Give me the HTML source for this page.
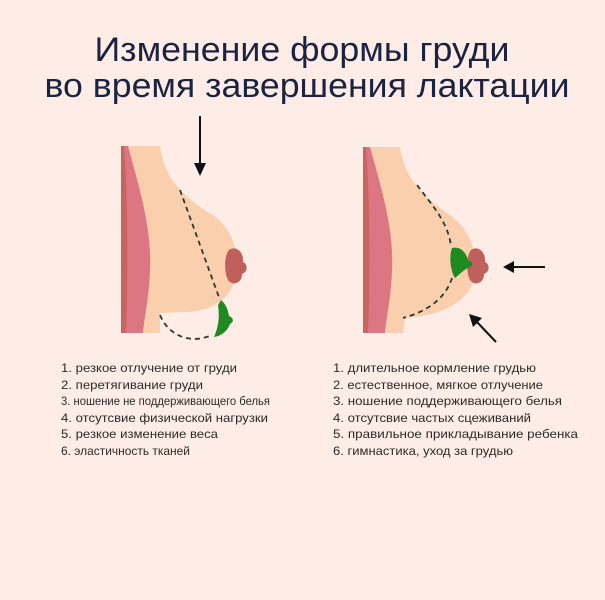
<!DOCTYPE html>
<html><head><meta charset="utf-8"><style>
html,body{margin:0;padding:0;background:#fdede6;}
svg{display:block}
text{font-family:"Liberation Sans",sans-serif;}
</style></head><body>
<svg width="605" height="600" viewBox="0 0 605 600" xmlns="http://www.w3.org/2000/svg">
<rect width="605" height="600" fill="#fdede6"/>
<text x="302" y="61" font-size="34" fill="#1c2340" text-anchor="middle" textLength="415" lengthAdjust="spacingAndGlyphs">Изменение формы груди</text>
<text x="307" y="97" font-size="34" fill="#1c2340" text-anchor="middle" textLength="525" lengthAdjust="spacingAndGlyphs">во время завершения лактации</text>

<!-- Left figure -->
<path d="M121,146 L160,146 C165,185 192,202 214,216 C232,229 240,252 236,276 C231,300 210,312 185,312 L160,313 L160,333 L121,333 Z" fill="#f9cfae"/>
<path d="M121,146 L128,146 C140,190 152,230 150,270 C149,300 144,318 143,333 L121,333 Z" fill="#dc7682"/>
<path d="M121,146 L124,146 C128,200 128,280 126,333 L121,333 Z" fill="#c9645f"/>
<path d="M229,250 C236,245 244,252 243,262 C248,264 248,272 242,274 C242,284 232,286 228,280 C224,272 224,256 229,250 Z" fill="#c0605c"/>
<path d="M221,300 C226,304 228,310 229,316 C234,318 234,322 230,324 C228,330 222,336 214,337 C218,328 220,318 218,305 Z" fill="#1f8a1f"/>
<path d="M180,190 L220,300" stroke="#2f3a2a" stroke-width="1.8" stroke-dasharray="5,4" fill="none"/>
<path d="M160,315 C168,335 190,345 212,335" stroke="#2f3a2a" stroke-width="1.8" stroke-dasharray="5,4" fill="none"/>
<line x1="200" y1="116" x2="200" y2="164" stroke="#111" stroke-width="2"/>
<polygon points="194,163 206,163 200,176" fill="#111"/>

<!-- Right figure -->
<path d="M363,147 L400,147 C405,182 428,200 450,215 C470,230 478,252 475,276 C470,302 440,316 405,318 L403,333 L363,333 Z" fill="#f9cfae"/>
<path d="M363,147 L370,147 C382,190 394,230 392,270 C391,300 386,318 385,333 L363,333 Z" fill="#dc7682"/>
<path d="M363,147 L366,147 C370,200 370,280 368,333 L363,333 Z" fill="#c9645f"/>
<path d="M471,250 C478,245 486,252 485,262 C490,264 490,272 484,274 C484,284 474,286 470,280 C466,272 466,256 471,250 Z" fill="#c0605c"/>
<path d="M452,248 C460,246 466,252 468,260 L472,262 L472,266 C466,268 462,272 455,278 C450,270 449,256 452,248 Z" fill="#1f8a1f"/>
<path d="M417,185 C432,205 448,222 451,246" stroke="#2f3a2a" stroke-width="1.8" stroke-dasharray="5,4" fill="none"/>
<path d="M452,278 C445,300 425,312 403,318" stroke="#2f3a2a" stroke-width="1.8" stroke-dasharray="5,4" fill="none"/>
<line x1="545" y1="267" x2="512" y2="267" stroke="#111" stroke-width="2"/>
<polygon points="503,267 514,261 514,273" fill="#111"/>
<line x1="496" y1="342" x2="476" y2="321" stroke="#111" stroke-width="2"/>
<polygon points="469,314 482,318 473,327" fill="#111"/>

<g font-size="12" fill="#2a2a2a">
<text x="61" y="372" textLength="176" lengthAdjust="spacingAndGlyphs">1. резкое отлучение от груди</text>
<text x="61" y="389" textLength="142" lengthAdjust="spacingAndGlyphs">2. перетягивание груди</text>
<text x="61" y="405" textLength="209" lengthAdjust="spacingAndGlyphs">3. ношение не поддерживающего белья</text>
<text x="61" y="422" textLength="207" lengthAdjust="spacingAndGlyphs">4. отсутсвие физической нагрузки</text>
<text x="61" y="438" textLength="157" lengthAdjust="spacingAndGlyphs">5. резкое изменение веса</text>
<text x="61" y="455" textLength="129" lengthAdjust="spacingAndGlyphs">6. эластичность тканей</text>

<text x="333" y="372" textLength="203" lengthAdjust="spacingAndGlyphs">1. длительное кормление грудью</text>
<text x="333" y="389" textLength="210" lengthAdjust="spacingAndGlyphs">2. естественное, мягкое отлучение</text>
<text x="333" y="405" textLength="229" lengthAdjust="spacingAndGlyphs">3. ношение поддерживающего белья</text>
<text x="333" y="422" textLength="198" lengthAdjust="spacingAndGlyphs">4. отсутсвие частых сцеживаний</text>
<text x="333" y="438" textLength="245" lengthAdjust="spacingAndGlyphs">5. правильное прикладывание ребенка</text>
<text x="333" y="455" textLength="180" lengthAdjust="spacingAndGlyphs">6. гимнастика, уход за грудью</text>
</g>
</svg>
</body></html>
